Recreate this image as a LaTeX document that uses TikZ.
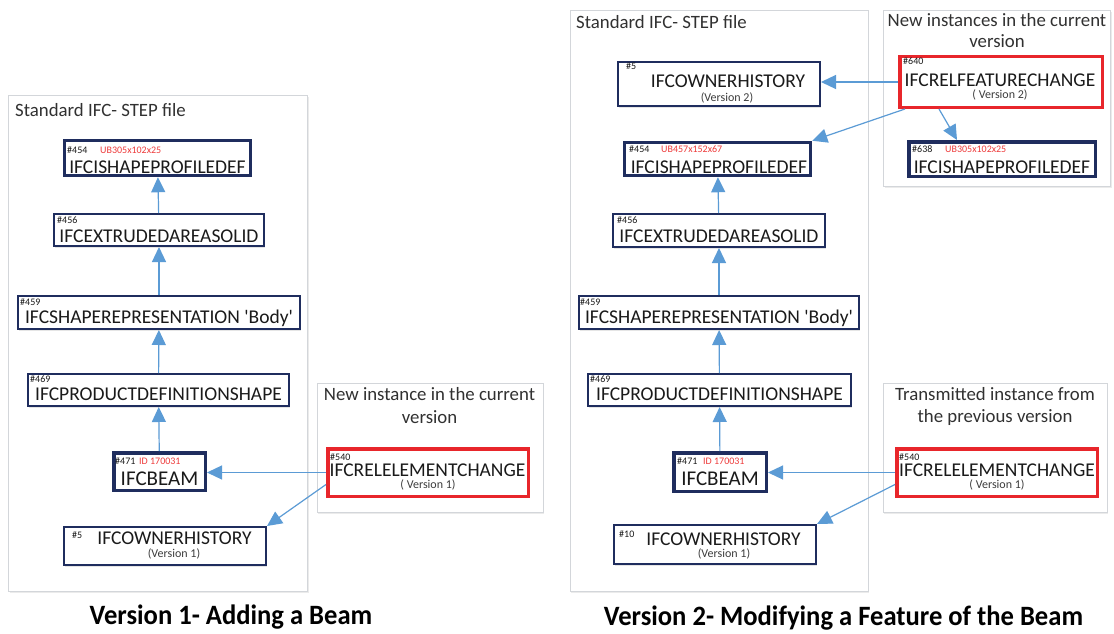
\documentclass[tikz,border=0pt]{standalone}
\usepackage{fontspec}
\setmainfont{Carlito}
\usetikzlibrary{arrows.meta,calc,shadows}
\definecolor{navy}{HTML}{1F2D5E}
\definecolor{redb}{HTML}{E8262B}
\definecolor{redt}{HTML}{EE3B3B}
\definecolor{arrc}{HTML}{5B9BD5}
\definecolor{panelc}{HTML}{D3D6DA}
\definecolor{txt}{HTML}{1A1A1A}
\tikzset{
  panel/.style={draw=panelc, line width=1pt, fill=white, inner sep=0pt,
    drop shadow={fill=black!30, opacity=0.25, shadow xshift=1pt, shadow yshift=-1.5pt}},
  nbox/.style={draw=navy, line width=2pt, fill=white, inner sep=0pt,
    drop shadow={fill=black!40, opacity=0.25, shadow xshift=1.2pt, shadow yshift=-1.5pt}},
  tbox/.style={nbox, line width=3.5pt},
  rbox/.style={nbox, draw=redb, line width=3.5pt},
  mt/.style={font=\fontsize{19.5}{22}\selectfont, text=txt, inner sep=0pt, anchor=base},
  bigt/.style={font=\fontsize{21}{24}\selectfont, text=txt, inner sep=0pt, anchor=base},
  num/.style={font=\fontsize{10}{12}\selectfont, text=txt, inner sep=0pt, anchor=base west},
  rnum/.style={num, text=redt},
  ver/.style={font=\fontsize{12}{14}\selectfont, text=txt!85, inner sep=0pt, anchor=base},
  hd/.style={font=\fontsize{18.8}{22}\selectfont, text=txt!90, inner sep=0pt, anchor=base},
  ttl/.style={font=\bfseries\fontsize{28}{32}\selectfont, text=black, inner sep=0pt, anchor=base},
  arr/.style={draw=arrc, line width=1.2pt, -{Triangle[length=15pt,width=14pt]}}
}
\begin{document}
\begin{tikzpicture}[x=1pt,y=-1pt]
\useasboundingbox (0,0) rectangle (1114,634);
\fill[white] (0,0) rectangle (1114,634);

% ---------------- Version 1 ----------------
\node[panel, minimum width=299pt, minimum height=496pt] (Lpanel) at (158,343.5) {};
\node[hd, anchor=base west] (Lhead) at (15,116) {Standard IFC- STEP file};

\node[tbox, minimum width=186pt, minimum height=35pt] (L454) at (157.5,158) {};
\node[num] (L454n) at (67,153) {\#454};
\node[rnum] (L454r) at (100,153) {UB305x102x25};
\node[mt] (L454t) at (157.5,173) {IFCISHAPEPROFILEDEF};

\node[nbox, minimum width=210pt, minimum height=32pt] (L456) at (159,230) {};
\node[num] (L456n) at (57,223) {\#456};
\node[mt] (L456t) at (159,242) {IFCEXTRUDEDAREASOLID};

\node[nbox, minimum width=282pt, minimum height=33pt] (L459) at (159,312.5) {};
\node[num] (L459n) at (20,305) {\#459};
\node[mt] (L459t) at (159,323) {IFCSHAPEREPRESENTATION \textquotesingle Body\textquotesingle};

\node[nbox, minimum width=261pt, minimum height=32pt] (L469) at (158.5,390) {};
\node[num] (L469n) at (30,382) {\#469};
\node[mt] (L469t) at (158.5,400) {IFCPRODUCTDEFINITIONSHAPE};

\node[tbox, minimum width=91.5pt, minimum height=37.5pt] (L471) at (159.5,471.5) {};
\node[num] (L471n) at (115,464) {\#471};
\node[rnum] (L471r) at (139,464) {ID 170031};
\node[bigt] (L471t) at (159.5,485) {IFCBEAM};

\node[nbox, minimum width=202pt, minimum height=38pt] (L5) at (165,546) {};
\node[num] (L5n) at (72,538) {\#5};
\node[mt] (L5t) at (174.5,544) {IFCOWNERHISTORY};
\node[ver] (L5v) at (174,557) {(Version 1)};

\node[panel, minimum width=226pt, minimum height=129pt] (Lnew) at (430,447.5) {};
\node[hd] (Lnew1) at (429.5,400) {New instance in the current};
\node[hd] (Lnew2) at (429.5,423) {version};

\node[rbox, minimum width=200.5pt, minimum height=47.5pt] (L540) at (428,472.5) {};
\node[num] (L540n) at (330,460) {\#540};
\node[mt] (L540t) at (427.5,476) {IFCRELELEMENTCHANGE};
\node[ver] (L540v) at (428,488) {( Version 1)};

\draw[arr] (L456) -- (L454);
\draw[arr] (L459) -- (L456);
\draw[arr] (L469) -- (L459);
\draw[arr] (L471) -- (L469);
\draw[arr] (L540.west) -- (L540.west -| L471.east);
\coordinate (L540b) at ($(L540.west)+(0,12)$);
\draw[arr] (L540b) -- (L5.north east);

\node[ttl] (T1) at (231,624) {\scalebox{0.95}[1]{Version 1- Adding a Beam}};

% ---------------- Version 2 ----------------
\node[panel, minimum width=298pt, minimum height=581pt] (Rpanel) at (719,301) {};
\node[hd, anchor=base west] (Rhead) at (576,29) {Standard IFC- STEP file};

\node[nbox, minimum width=202pt, minimum height=44pt] (R5) at (719,84) {};
\node[num] (R5n) at (626,70) {\#5};
\node[mt] (R5t) at (728,88) {IFCOWNERHISTORY};
\node[ver] (R5v) at (727,101) {(Version 2)};

\node[tbox, minimum width=186pt, minimum height=33pt] (R454) at (717.5,159) {};
\node[num] (R454n) at (629,152) {\#454};
\node[rnum] (R454r) at (661,152) {UB457x152x67};
\node[mt] (R454t) at (719,173) {IFCISHAPEPROFILEDEF};

\node[nbox, minimum width=212pt, minimum height=33pt] (R456) at (719,230.5) {};
\node[num] (R456n) at (617,223) {\#456};
\node[mt] (R456t) at (719,242) {IFCEXTRUDEDAREASOLID};

\node[nbox, minimum width=280pt, minimum height=33pt] (R459) at (719,312.5) {};
\node[num] (R459n) at (580,305) {\#459};
\node[mt] (R459t) at (719,323) {IFCSHAPEREPRESENTATION \textquotesingle Body\textquotesingle};

\node[nbox, minimum width=263pt, minimum height=32pt] (R469) at (719.5,390) {};
\node[num] (R469n) at (590,382) {\#469};
\node[mt] (R469t) at (719.5,400) {IFCPRODUCTDEFINITIONSHAPE};

\node[tbox, minimum width=92.5pt, minimum height=38.5pt] (R471) at (720,472) {};
\node[num] (R471n) at (677,464) {\#471};
\node[rnum] (R471r) at (703,464) {ID 170031};
\node[bigt] (R471t) at (720,485) {IFCBEAM};

\node[nbox, minimum width=202pt, minimum height=39pt] (R10) at (715,544.5) {};
\node[num] (R10n) at (619,537) {\#10};
\node[mt] (R10t) at (723.5,545) {IFCOWNERHISTORY};
\node[ver] (R10v) at (724,557) {(Version 1)};

\node[panel, minimum width=227pt, minimum height=176pt] (Rtop) at (997,98.5) {};
\node[hd] (Rtop1) at (997,27) {New instances in the current};
\node[hd] (Rtop2) at (997,48) {version};

\node[rbox, minimum width=202.5pt, minimum height=50.5pt] (R640) at (1001,82) {};
\node[num] (R640n) at (903,65) {\#640};
\node[mt] (R640t) at (1000,86) {IFCRELFEATURECHANGE};
\node[ver] (R640v) at (1000,99) {( Version 2)};

\node[tbox, minimum width=186.5pt, minimum height=34.5pt] (R638) at (1002,159) {};
\node[num] (R638n) at (912,152) {\#638};
\node[rnum] (R638r) at (945,152) {UB305x102x25};
\node[mt] (R638t) at (1002,173) {IFCISHAPEPROFILEDEF};

\node[panel, minimum width=224pt, minimum height=129pt] (Rtr) at (995,447.5) {};
\node[hd] (Rtr1) at (995,400) {Transmitted instance from};
\node[hd] (Rtr2) at (995,422) {the previous version};

\node[rbox, minimum width=200.5pt, minimum height=47.5pt] (R540) at (997,472.5) {};
\node[num] (R540n) at (899,460) {\#540};
\node[mt] (R540t) at (997,476) {IFCRELELEMENTCHANGE};
\node[ver] (R540v) at (997,488) {( Version 1)};

\draw[arr] (R456) -- (R454);
\draw[arr] (R459) -- (R456);
\draw[arr] (R469) -- (R459);
\draw[arr] (R471) -- (R469);
\draw[arr] (R640.west) -- (R640.west -| R5.east);
\coordinate (R640b) at ($(R640.south west)+(7,0)$);
\draw[arr] (R640b) -- (R454.north east);
\coordinate (R640c) at ($(R640.south west)+(41,0)$);
\coordinate (R638t) at ($(R638.north west)+(50,0)$);
\draw[arr] (R640c) -- (R638t);
\draw[arr] (R540.west) -- (R540.west -| R471.east);
\coordinate (R540b) at ($(R540.west)+(0,12)$);
\draw[arr] (R540b) -- (R10.north east);

\node[ttl] (T2) at (843.5,625) {\scalebox{0.95}[1]{Version 2- Modifying a Feature of the Beam}};
\end{tikzpicture}
\end{document}
